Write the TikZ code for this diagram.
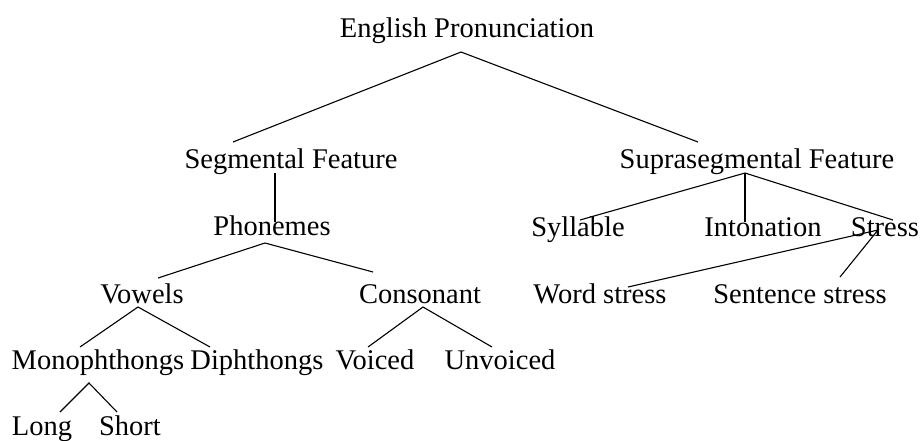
\documentclass[tikz,border=0pt]{standalone}
\usepackage{fontspec}
\setmainfont{Liberation Serif}
\usepackage{tikz}

\begin{document}
\begin{tikzpicture}[x=1pt, y=-1pt,
    every node/.style={anchor=base, inner sep=0pt, font=\fontsize{28.5}{34}\selectfont},
    branch/.style={draw, line width=1.1pt},
  ]
  \useasboundingbox (0,0) rectangle (923,440);

  % levels, top to bottom
  \node (eng)   at (467,37)  {English Pronunciation};
  \node (seg)   at (291,168) {Segmental Feature};
  \node (supra) at (757,168) {Suprasegmental Feature};

  \node (phon)  at (272,235) {Phonemes};
  \node (syl)   at (578,236) {Syllable};
  \node (into)  at (763,236) {Intonation};
  \node (str)   at (885,236) {Stress};

  \node (vow)   at (142,303) {Vowels};
  \node (cons)  at (420,303) {Consonant};
  \node (word)  at (600,303) {Word stress};
  \node (sent)  at (800,303) {Sentence stress};

  \node (mono)  at (98,369)  {Monophthongs};
  \node (diph)  at (257,369) {Diphthongs};
  \node (voic)  at (375,369) {Voiced};
  \node (unv)   at (500,369) {Unvoiced};

  \node (long)  at (42,435)  {Long};
  \node (short) at (130,435) {Short};

  \path[branch] ([xshift=-58pt,yshift=26pt]seg.base) -- ([xshift=-6pt,yshift=-15pt]eng.base)
                -- ([xshift=-59pt,yshift=26pt]supra.base);
  \path[branch] ([xshift=-16pt,yshift=-5pt]seg.base) -- ([xshift=3pt,yshift=13pt]phon.base);

  \path[branch] ([xshift=16pt,yshift=25pt]vow.base) -- ([xshift=-7pt,yshift=-8pt]phon.base)
                -- ([xshift=-47pt,yshift=31pt]cons.base);
  \path[branch] ([xshift=-18pt,yshift=22pt]mono.base) -- ([xshift=-4pt,yshift=-4pt]vow.base)
                -- ([xshift=-47pt,yshift=22pt]diph.base);
  \path[branch] ([xshift=-7pt,yshift=22pt]voic.base) -- ([xshift=3pt,yshift=-4pt]cons.base)
                -- ([xshift=-8pt,yshift=22pt]unv.base);
  \path[branch] ([xshift=18pt,yshift=23pt]long.base) -- ([xshift=-9pt,yshift=-14pt]mono.base)
                -- ([xshift=-13pt,yshift=23pt]short.base);

  \path[branch] ([xshift=2pt,yshift=16pt]syl.base) -- ([xshift=-12pt,yshift=-5pt]supra.base)
                -- ([xshift=8pt,yshift=16pt]str.base);
  \path[branch] ([xshift=-12pt,yshift=-5pt]supra.base) -- ([xshift=-18pt,yshift=14pt]into.base);
  \path[branch] ([xshift=28pt,yshift=16pt]word.base) -- ([xshift=-7pt,yshift=6pt]str.base)
                -- ([xshift=40pt,yshift=26pt]sent.base);

\end{tikzpicture}
\end{document}
